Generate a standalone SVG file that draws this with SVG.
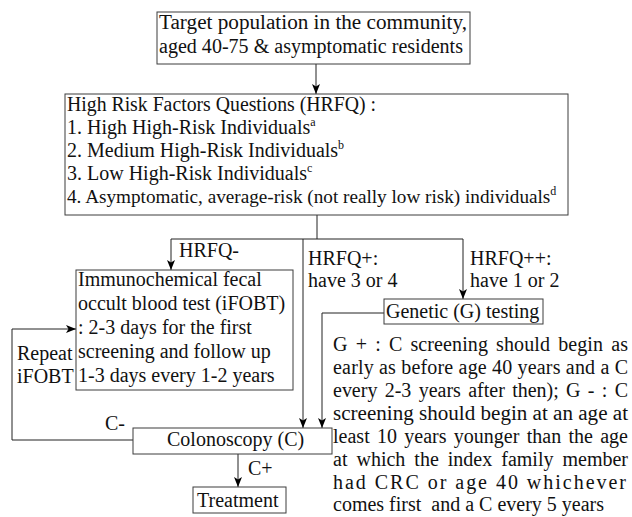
<svg xmlns="http://www.w3.org/2000/svg" width="632" height="517" viewBox="0 0 632 517">
<style>
text{font-family:"Liberation Serif","Times New Roman",serif;font-size:20px;fill:#111}
.sup{font-size:12px}
.box{fill:#fff;stroke:#3c3c3c;stroke-width:1}
.ln{fill:none;stroke:#222;stroke-width:1}
</style>
<defs>
<marker id="ah" markerUnits="userSpaceOnUse" markerWidth="10" markerHeight="8" refX="10" refY="4" orient="auto">
<path d="M0,0 L10,4 L0,8 L2.5,4 Z" fill="#000"/>
</marker>
</defs>
<rect width="632" height="517" fill="#fff"/>
<g id="connectors">
<line class="ln" x1="316" y1="64" x2="316" y2="94" marker-end="url(#ah)"/>
<polyline class="ln" points="317,215 317,239"/>
<polyline class="ln" points="171,239 463,239"/>
<line class="ln" x1="171" y1="239" x2="171" y2="270" marker-end="url(#ah)"/>
<line class="ln" x1="303" y1="239" x2="303" y2="428" marker-end="url(#ah)"/>
<line class="ln" x1="463" y1="239" x2="463" y2="299" marker-end="url(#ah)"/>
<polyline class="ln" points="384,313 322,313 322,428" marker-end="url(#ah)"/>
<polyline class="ln" points="133,440 12,440 12,329 76,329" marker-end="url(#ah)"/>
<line class="ln" x1="238" y1="454" x2="238" y2="487" marker-end="url(#ah)"/>
</g>
<g id="target">
<rect class="box" x="157" y="12" width="313" height="52"/>
<text x="159" y="29" textLength="308" lengthAdjust="spacingAndGlyphs">Target population in the community,</text>
<text x="159" y="53" textLength="304" lengthAdjust="spacingAndGlyphs">aged 40-75 &amp; asymptomatic residents</text>
</g>
<g id="hrfq">
<rect class="box" x="65" y="94" width="503" height="121"/>
<text x="67" y="111" textLength="309" lengthAdjust="spacingAndGlyphs">High Risk Factors Questions (HRFQ) :</text>
<text x="67" y="134">1. High High-Risk Individuals<tspan class="sup" dy="-8">a</tspan></text>
<text x="67" y="157">2. Medium High-Risk Individuals<tspan class="sup" dy="-8">b</tspan></text>
<text x="67" y="180">3. Low High-Risk Individuals<tspan class="sup" dy="-8">c</tspan></text>
<text x="67" y="203" style="font-size:19.2px">4. Asymptomatic, average-risk (not really low risk) individuals<tspan class="sup" dy="-8">d</tspan></text>
</g>
<g id="labels">
<text x="179" y="257">HRFQ-</text>
<text x="308" y="265">HRFQ+:</text>
<text x="308" y="287">have 3 or 4</text>
<text x="470" y="265">HRFQ++:</text>
<text x="470" y="287">have 1 or 2</text>
<text x="17" y="360">Repeat</text>
<text x="17" y="383">iFOBT</text>
<text x="105" y="430">C-</text>
<text x="248" y="475">C+</text>
</g>
<g id="ifobt">
<rect class="box" x="76" y="270" width="217" height="120"/>
<text x="78" y="286">Immunochemical fecal</text>
<text x="78" y="310">occult blood test (iFOBT)</text>
<text x="78" y="334">: 2-3 days for the first</text>
<text x="78" y="358">screening and follow up</text>
<text x="78" y="382">1-3 days every 1-2 years</text>
</g>
<g id="genetic">
<rect class="box" x="384" y="299" width="159" height="25"/>
<text x="386" y="318">Genetic (G) testing</text>
</g>
<g id="gtext">
<text x="333" y="351" word-spacing="3" textLength="295" lengthAdjust="spacing">G + : C screening should begin as</text>
<text x="333" y="374" textLength="295" lengthAdjust="spacing">early as before age 40 years and a C</text>
<text x="333" y="397" word-spacing="2.3" textLength="295" lengthAdjust="spacing">every 2-3 years after then); G - : C</text>
<text x="333" y="420" textLength="295" lengthAdjust="spacingAndGlyphs">screening should begin at an age at</text>
<text x="333" y="443" word-spacing="2.3" textLength="295" lengthAdjust="spacing">least 10 years younger than the age</text>
<text x="333" y="466" word-spacing="4" textLength="295" lengthAdjust="spacing">at which the index family member</text>
<text x="333" y="489" letter-spacing="2" textLength="295" lengthAdjust="spacing">had CRC or age 40 whichever</text>
<text x="333" y="511" style="white-space:pre">comes first  and a C every 5 years</text>
</g>
<g id="colonoscopy">
<rect class="box" x="133" y="428" width="199" height="26"/>
<text x="167" y="446">Colonoscopy (C)</text>
</g>
<g id="treatment">
<rect class="box" x="193" y="487" width="93" height="26"/>
<text x="197" y="507">Treatment</text>
</g>
</svg>
